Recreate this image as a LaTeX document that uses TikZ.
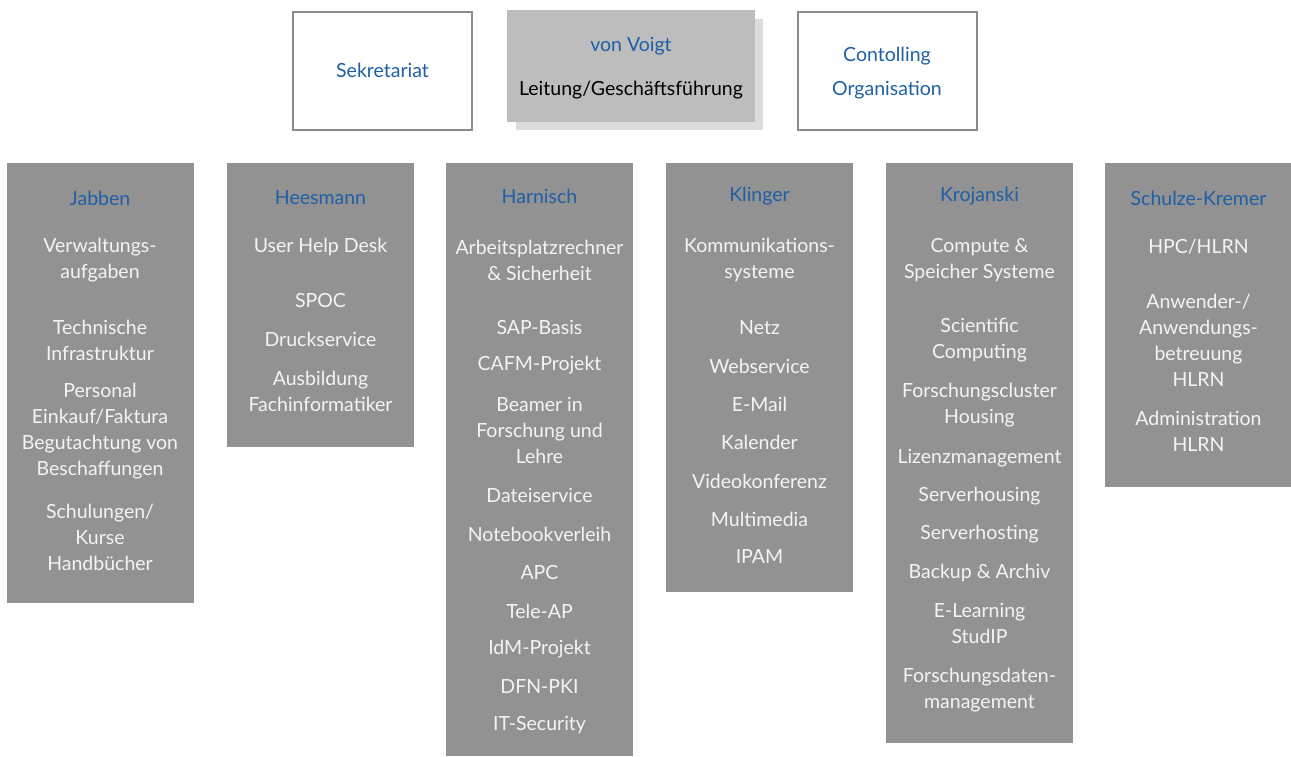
\documentclass[tikz,border=0pt]{standalone}
\usepackage{fontspec}
\setmainfont{Lato}
\usetikzlibrary{positioning}
\definecolor{orgBlue}{HTML}{1F5FA6}
\definecolor{orgGray}{HTML}{929292}
\definecolor{orgLead}{HTML}{BDBDBD}
\definecolor{orgShadow}{HTML}{DCDCDC}
\definecolor{orgFrame}{HTML}{8C8C8C}
\definecolor{orgText}{HTML}{F4F4F4}
\tikzset{
  % White top box with gray frame
  topbox/.style={rectangle,draw=orgFrame,line width=2pt,fill=white,
    minimum width=179pt,minimum height=118pt,inner sep=0pt},
  % Management box (light gray)
  leadbox/.style={rectangle,fill=orgLead,
    minimum width=248pt,minimum height=112pt,inner sep=0pt},
  % Department column (dark gray)
  colbox/.style={rectangle,fill=orgGray,anchor=north,
    minimum width=187pt,inner sep=0pt},
  % Texts
  head/.style={font=\fontsize{19.5}{26}\selectfont,text=orgBlue,align=center},
  item/.style={font=\fontsize{19.5}{26}\selectfont,text=orgText,align=center},
  lead/.style={font=\fontsize{19.5}{26}\selectfont,text=black,align=center},
}

\begin{document}
\begin{tikzpicture}[x=1pt,y=-1pt]
  \useasboundingbox (0,0) rectangle (1291,756);

  % Top row
  \node[topbox] (sek) at (382.5,70.5) {};
  \node[head] (sekT) at (sek.center) {Sekretariat};

  \node[leadbox,fill=orgShadow,draw=white,line width=1pt] (leadS) at (639,74) {};
  \node[leadbox] (lead) at (631,66) {};
  \node[head] (leadN) at (631,46) {von Voigt};
  \node[lead] (leadT) at (631,90) {Leitung/Geschäftsführung};

  \node[topbox] (con) at (887,70.5) {};
  \node[head,font=\fontsize{19.5}{34}\selectfont] (conT) at (887,73)
    {Contolling\\Organisation};

  % Columns
  \node[colbox,minimum height=440pt] (jab) at (100,163) {};
  \node[head] (jabN) at (100,198) {Jabben};
  \foreach \y/\t [count=\i] in {260/{Verwaltungs-\\aufgaben},
      340/{Technische\\Infrastruktur},
      431/{Personal\\Einkauf/Faktura\\Begutachtung von\\Beschaffungen},
      537/{Schulungen/\\Kurse\\Handbücher}}
    \node[item] (jab-\i) at (100,\y) {\t};

  \node[colbox,minimum height=284pt] (hee) at (320.5,163) {};
  \node[head] (heeN) at (320.5,198) {Heesmann};
  \foreach \y/\t [count=\i] in {247/{User Help Desk},
      301/{SPOC},
      339/{Druckservice},
      391/{Ausbildung\\Fachinformatiker}}
    \node[item] (hee-\i) at (320.5,\y) {\t};

  \node[colbox,minimum height=593pt] (har) at (539.5,163) {};
  \node[head] (harN) at (539.5,196) {Harnisch};
  \foreach \y/\t [count=\i] in {260/{Arbeitsplatzrechner\\\& Sicherheit},
      327/{SAP-Basis},
      365/{CAFM-Projekt},
      430/{Beamer in\\Forschung und\\Lehre},
      495/{Dateiservice},
      534/{Notebookverleih},
      573/{APC},
      611/{Tele-AP},
      649/{IdM-Projekt},
      687/{DFN-PKI},
      725/{IT-Security}}
    \node[item] (har-\i) at (539.5,\y) {\t};

  \node[colbox,minimum height=429pt] (kli) at (759.5,163) {};
  \node[head] (kliN) at (759.5,196) {Klinger};
  \foreach \y/\t [count=\i] in {260/{Kommunikations-\\systeme},
      328/{Netz},
      366/{Webservice},
      404/{E-Mail},
      442/{Kalender},
      481/{Videokonferenz},
      519/{Multimedia},
      557/{IPAM}}
    \node[item] (kli-\i) at (759.5,\y) {\t};

  \node[colbox,minimum height=580pt] (kro) at (979.5,163) {};
  \node[head] (kroN) at (979.5,196) {Krojanski};
  \foreach \y/\t [count=\i] in {260/{Compute \&\\Speicher Systeme},
      340/{Scientific\\Computing},
      405/{Forschungscluster\\Housing},
      458/{Lizenzmanagement},
      496/{Serverhousing},
      534/{Serverhosting},
      573/{Backup \& Archiv},
      623/{E-Learning\\StudIP},
      690/{Forschungsdaten-\\management}}
    \node[item] (kro-\i) at (979.5,\y) {\t};

  \node[colbox,minimum height=324pt] (sch) at (1198.5,163) {};
  \node[head] (schN) at (1198.5,198) {Schulze-Kremer};
  \foreach \y/\t [count=\i] in {247/{HPC/HLRN},
      340/{Anwender-/\\Anwendungs-\\betreuung\\HLRN},
      431/{Administration\\HLRN}}
    \node[item] (sch-\i) at (1198.5,\y) {\t};
\end{tikzpicture}
\end{document}
